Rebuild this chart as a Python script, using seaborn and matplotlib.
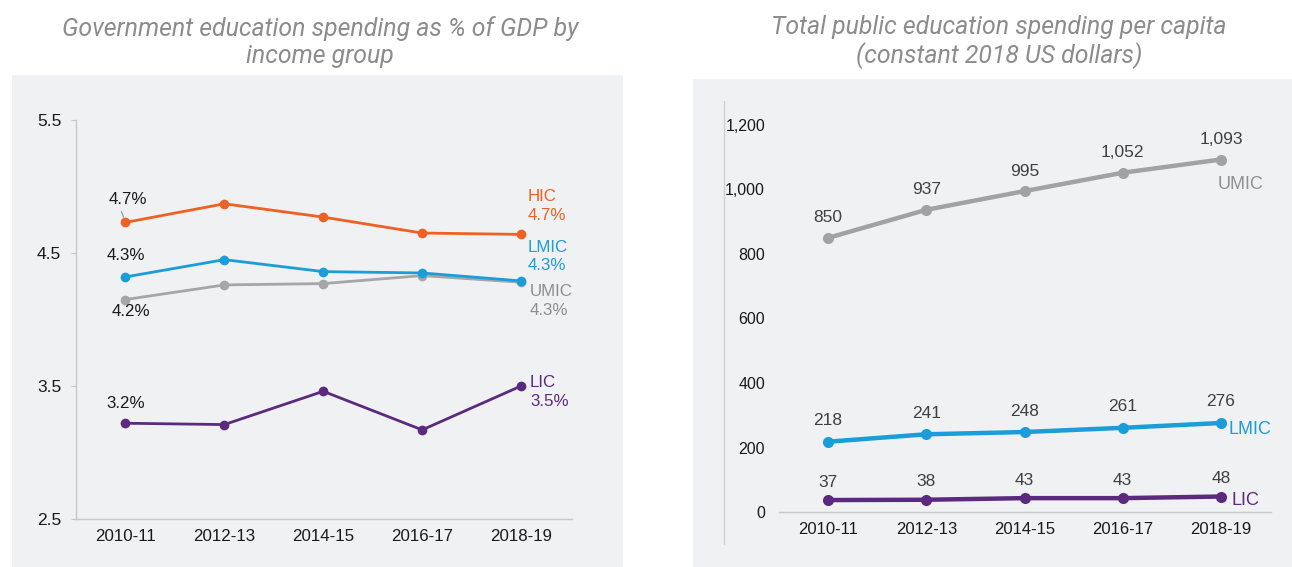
import matplotlib
matplotlib.use("Agg")
import matplotlib.pyplot as plt
from matplotlib.patches import Rectangle
from matplotlib.lines import Line2D
import seaborn as sns
import pandas as pd

# ---------------- data ----------------
periods = ["2010-11", "2012-13", "2014-15", "2016-17", "2018-19"]

gdp_hic = [4.73, 4.87, 4.77, 4.65, 4.64]
gdp_lmic = [4.32, 4.45, 4.36, 4.35, 4.29]
gdp_umic = [4.15, 4.26, 4.27, 4.33, 4.28]
gdp_lic = [3.22, 3.21, 3.46, 3.17, 3.50]
gdp_first_labels = ["4.7%", "4.3%", "4.2%", "3.2%"]
gdp_last_labels = ["4.7%", "4.3%", "4.3%", "3.5%"]

pc_umic = [850, 937, 995, 1052, 1093]
pc_lmic = [218, 241, 248, 261, 276]
pc_lic = [37, 38, 43, 43, 48]

left_yticks = [2.5, 3.5, 4.5, 5.5]
right_yticks = [0, 200, 400, 600, 800, 1000, 1200]

title_left = "Government education spending as % of GDP by\nincome group"
title_right = "Total public education spending per capita\n(constant 2018 US dollars)"

# ---------------- style ----------------
C_HIC = "#EE6123"
C_LMIC = "#1B9DD9"
C_UMIC = "#A6A6A6"
C_LIC = "#5B2A7F"
BG = "#F0F1F3"
SPINE = "#C8C8C8"
TICKC = "#1A1A1A"
LABC = "#404040"

sns.set_theme(style="white")
plt.rcParams["font.family"] = ["Liberation Sans", "DejaVu Sans"]

W, H = 1292, 567
fig = plt.figure(figsize=(W / 100, H / 100), dpi=100)
fig.patch.set_facecolor("white")

# panel backgrounds
fig.patches.append(Rectangle((12 / W, 0), (623 - 12) / W, (567 - 75) / H,
                             transform=fig.transFigure, facecolor=BG, edgecolor="none", zorder=-10))
fig.patches.append(Rectangle((693 / W, 0), (1292 - 693) / W, (567 - 79) / H,
                             transform=fig.transFigure, facecolor=BG, edgecolor="none", zorder=-10))

# titles
tkw = dict(family="Roboto", style="italic", color="#8C8C8C", fontsize=17.9,
           ha="center", va="center", linespacing=1.2)
fig.text(320 / W, 1 - 42 / H, title_left, **tkw)
fig.text(999 / W, 1 - 42 / H, title_right, **tkw)

# ---------------- left chart ----------------
axL = fig.add_axes([76 / W, 48 / H, (572 - 76) / W, (519 - 120) / H])
axL.set_facecolor("none")
dfL = pd.DataFrame({
    "period": periods * 4,
    "value": gdp_hic + gdp_lmic + gdp_umic + gdp_lic,
    "group": ["HIC"] * 5 + ["LMIC"] * 5 + ["UMIC"] * 5 + ["LIC"] * 5,
})
palL = {"HIC": C_HIC, "LMIC": C_LMIC, "UMIC": C_UMIC, "LIC": C_LIC}
sns.lineplot(data=dfL, x="period", y="value", hue="group", palette=palL,
             hue_order=["UMIC", "LIC", "LMIC", "HIC"],
             marker="o", markersize=7, markeredgewidth=0, linewidth=2.0,
             legend=False, ax=axL, sort=False)
axL.set_xlim(-0.5, 4.515)
axL.set_ylim(2.5, 5.5)
axL.set_yticks(left_yticks)
axL.set_yticklabels([f"{v:.1f}" for v in left_yticks])
axL.set_xlabel("")
axL.set_ylabel("")
for s in ["top", "right"]:
    axL.spines[s].set_visible(False)
for s in ["left", "bottom"]:
    axL.spines[s].set_color(SPINE)
    axL.spines[s].set_linewidth(1)
axL.tick_params(axis="y", length=3.6, width=0.8, color=SPINE, pad=7, labelsize=12.5, labelcolor=TICKC, left=True)
axL.tick_params(axis="x", length=0, pad=7.5, labelsize=12.2, labelcolor=TICKC)

lk = dict(textcoords="offset pixels", ha="center", va="center", fontsize=12.2, color=TICKC,
          annotation_clip=False)
axL.annotate(gdp_first_labels[0], xy=(0, gdp_hic[0]), xytext=(2, 23),
             arrowprops=dict(arrowstyle="-", color="#9A9A9A", lw=0.9, shrinkA=1, shrinkB=4,
                             relpos=(0.3, 0.0)), **lk)
axL.annotate(gdp_first_labels[1], xy=(0, gdp_lmic[0]), xytext=(0, 21), **lk)
axL.annotate(gdp_first_labels[2], xy=(0, gdp_umic[0]), xytext=(5, -12), **lk)
axL.annotate(gdp_first_labels[3], xy=(0, gdp_lic[0]), xytext=(0, 20), **lk)

rk = dict(textcoords="offset pixels", ha="left", va="center", fontsize=12.2, annotation_clip=False)
axL.annotate("HIC", xy=(4, gdp_hic[4]), xytext=(7, 38), color=C_HIC, **rk)
axL.annotate(gdp_last_labels[0], xy=(4, gdp_hic[4]), xytext=(7, 19), color=C_HIC, **rk)
axL.annotate("LMIC", xy=(4, gdp_lmic[4]), xytext=(7, 33), color=C_LMIC, **rk)
axL.annotate(gdp_last_labels[1], xy=(4, gdp_lmic[4]), xytext=(7, 15), color=C_LMIC, **rk)
axL.annotate("UMIC", xy=(4, gdp_umic[4]), xytext=(9, -9), color="#8E8E8E", **rk)
axL.annotate(gdp_last_labels[2], xy=(4, gdp_umic[4]), xytext=(9, -28), color="#8E8E8E", **rk)
axL.annotate("LIC", xy=(4, gdp_lic[4]), xytext=(9, 3), color=C_LIC, **rk)
axL.annotate(gdp_last_labels[3], xy=(4, gdp_lic[4]), xytext=(9, -16), color=C_LIC, **rk)

# ---------------- right chart ----------------
axR = fig.add_axes([779 / W, 55 / H, (1271 - 779) / W, (512 - 125) / H])
axR.set_facecolor("none")
dfR = pd.DataFrame({
    "period": periods * 3,
    "value": pc_umic + pc_lmic + pc_lic,
    "group": ["UMIC"] * 5 + ["LMIC"] * 5 + ["LIC"] * 5,
})
palR = {"UMIC": "#A2A2A2", "LMIC": C_LMIC, "LIC": C_LIC}
sns.lineplot(data=dfR, x="period", y="value", hue="group", palette=palR,
             marker="o", markersize=8, markeredgewidth=0, linewidth=3.2,
             legend=False, ax=axR, sort=False)
axR.set_xlim(-0.5, 4.51)
axR.set_ylim(0, 1200)
axR.set_yticks(right_yticks)
axR.set_yticklabels([f"{v:,}" for v in right_yticks])
axR.set_xlabel("")
axR.set_ylabel("")
for s in ["top", "right", "left"]:
    axR.spines[s].set_visible(False)
axR.spines["bottom"].set_color(SPINE)
axR.spines["bottom"].set_linewidth(1)
axR.tick_params(axis="y", length=0, pad=10, labelsize=11.5, labelcolor=TICKC)
axR.tick_params(axis="x", length=0, pad=7, labelsize=12, labelcolor=TICKC)

vk = dict(textcoords="offset pixels", ha="center", va="center", fontsize=12.5, color=LABC,
          annotation_clip=False)
for series, dy in [(pc_umic, 20), (pc_lmic, 21), (pc_lic, 18)]:
    for i, v in enumerate(series):
        axR.annotate(f"{v:,}", xy=(i, v), xytext=(0, dy), **vk)

sk = dict(textcoords="offset pixels", ha="left", va="center", fontsize=13, annotation_clip=False)
axR.annotate("UMIC", xy=(4, pc_umic[4]), xytext=(-3, -25), color="#909090", **sk)
axR.annotate("LMIC", xy=(4, pc_lmic[4]), xytext=(8, -7), color=C_LMIC, **sk)
axR.annotate("LIC", xy=(4, pc_lic[4]), xytext=(11, -4), color=C_LIC, **sk)

# separator line on the right panel
fig.add_artist(Line2D([724 / W, 724 / W], [1 - 101 / H, 1 - 544 / H],
                      transform=fig.transFigure, color="#D0D0D0", lw=1))

fig.savefig("out.png", dpi=100, facecolor="white")
